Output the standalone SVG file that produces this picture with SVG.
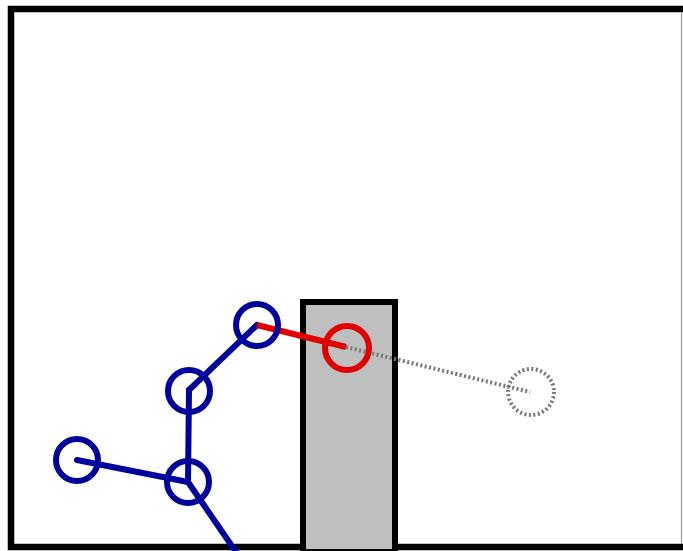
<svg xmlns="http://www.w3.org/2000/svg" width="683" height="551" viewBox="0 0 683 551">
<style>
.frame{fill:#fff;stroke:#000;stroke-width:6.5}
.wall{fill:#bfbfbf;stroke:#000;stroke-width:6}
.link{stroke:#00009c;stroke-width:6;fill:none;stroke-linecap:round}
.joint{fill:none;stroke:#00009c;stroke-width:6}
.red{stroke:#e00000;stroke-width:6;fill:none}
.ghost{stroke:#777;stroke-width:4;fill:none;stroke-dasharray:2 2.5}
</style>
<rect class="frame" x="11" y="9" width="690" height="538"/>
<line x1="681.5" y1="12" x2="681.5" y2="544" stroke="#999" stroke-width="1.2"/>
<g id="wall"><rect class="wall" x="303" y="302" width="92" height="250"/></g>
<g id="connectors">
<line class="link" x1="188" y1="482" x2="236" y2="552"/>
<line class="link" x1="77" y1="460" x2="188" y2="482"/>
<line class="link" x1="188" y1="482" x2="189" y2="390"/>
<line class="link" x1="189" y1="390" x2="257" y2="325"/>
<line class="red" x1="257" y1="325" x2="346" y2="347"/>
<line class="ghost" x1="346" y1="347" x2="530" y2="392"/>
</g>
<g id="j1"><circle class="joint" cx="257" cy="325" r="21"/></g>
<g id="j2"><circle class="joint" cx="189" cy="391" r="21"/></g>
<g id="j3"><circle class="joint" cx="77" cy="460" r="21"/></g>
<g id="j4"><circle class="joint" cx="188" cy="482" r="21"/></g>
<g id="target"><circle class="red" cx="347" cy="348" r="22"/></g>
<g id="ghost"><circle class="ghost" cx="531" cy="392" r="23"/></g>
</svg>
